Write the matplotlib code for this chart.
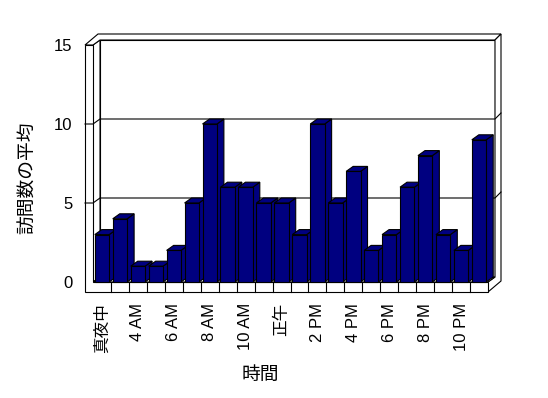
import matplotlib
matplotlib.use("Agg")
import matplotlib.pyplot as plt
from matplotlib.patches import Polygon

plt.rcParams['font.family'] = ['Liberation Sans', 'Noto Sans CJK JP', 'DejaVu Sans']

# ---- data ----
values = [3, 4, 1, 1, 2, 5, 10, 6, 6, 5, 5, 3, 10, 5, 7, 2, 3, 6, 8, 3, 2, 9]
tick_labels = ['真夜中', '4 AM', '6 AM', '8 AM', '10 AM', '正午',
               '2 PM', '4 PM', '6 PM', '8 PM', '10 PM']
y_ticks = [0, 5, 10, 15]
y_label = '訪問数の平均'
x_label = '時間'

# ---- style ----
W_PX, H_PX, DPI = 548, 398, 100
AX_L, AX_R, AX_T, AX_B = 93, 488, 45, 282   # front plane in pixels
BAR_COLOR = '#000080'
LW = 0.8
CJK = ['Noto Sans CJK JP', 'DejaVu Sans']

fig = plt.figure(figsize=(W_PX / DPI, H_PX / DPI), dpi=DPI)
ax = fig.add_axes([AX_L / W_PX, 1 - AX_B / H_PX,
                   (AX_R - AX_L) / W_PX, (AX_B - AX_T) / H_PX])
n = len(values)
ymax = y_ticks[-1]
ax.set_xlim(0, n)
ax.set_ylim(0, ymax)

pxx = (AX_R - AX_L) / n        # pixels per category
pxy = (AX_B - AX_T) / ymax     # pixels per value unit
def dx(p): return p / pxx
def dy(p): return p / pxy

# depth offsets (pixel -> data units)
a1x, a1y = dx(7), dy(5)     # plot depth
a2x, a2y = dx(6), dy(6)     # back wall thickness
Wt = dx(8)                  # left wall thickness
Ft = dy(10)                 # floor thickness
X, Y = n, ymax

def poly(pts, fc='white', z=1):
    ax.add_patch(Polygon(pts, closed=True, facecolor=fc, edgecolor='black',
                         linewidth=LW, clip_on=False, zorder=z,
                         joinstyle='miter'))

# back wall face
poly([(a1x, a1y), (X + a1x, a1y), (X + a1x, Y + a1y), (a1x, Y + a1y)])
# left wall inner face
poly([(0, Y), (a1x, Y + a1y), (a1x, a1y), (0, 0)])
# top face
poly([(-Wt, Y), (0, Y), (a1x, Y + a1y), (X + a1x, Y + a1y),
      (X + a1x + a2x, Y + a1y + a2y), (-Wt + a1x + a2x, Y + a1y + a2y)])
# right end
poly([(X, 0), (X + a1x, a1y), (X + a1x, Y + a1y),
      (X + a1x + a2x, Y + a1y + a2y), (X + a1x + a2x, -Ft + a1y + a2y), (X, -Ft)])
# floor top
poly([(0, 0), (X, 0), (X + a1x, a1y), (a1x, a1y)])
# front L face
poly([(-Wt, Y), (0, Y), (0, 0), (X, 0), (X, -Ft), (-Wt, -Ft)])

# gridlines
for v in y_ticks[1:-1]:
    ax.plot([-Wt, 0, a1x, X + a1x, X + a1x + a2x],
            [v, v, v + a1y, v + a1y, v + a1y + a2y],
            color='black', linewidth=LW, clip_on=False, zorder=2)
# category dividers on floor front
for i in range(1, n):
    ax.plot([i, i], [0, -Ft], color='black', linewidth=LW, clip_on=False, zorder=2)

# bars
bw = 0.8
for i, v in enumerate(values):
    x0 = i + (1 - bw) / 2
    x1 = x0 + bw
    z = 3 + i * 0.01
    poly([(x1, 0), (x1, v), (x1 + a1x, v + a1y), (x1 + a1x, a1y)], BAR_COLOR, z)
    poly([(x0, v), (x1, v), (x1 + a1x, v + a1y), (x0 + a1x, v + a1y)], BAR_COLOR, z)
    poly([(x0, 0), (x1, 0), (x1, v), (x0, v)], BAR_COLOR, z)

# axes / ticks
ax.set_frame_on(False)
ax.set_yticks(y_ticks)
ax.set_yticklabels([str(t) for t in y_ticks])
ax.set_xticks([i + 0.5 for i in range(0, n, 2)])
ax.set_xticklabels(tick_labels, rotation=90, va='top', ha='center')
ax.tick_params(axis='both', length=0, labelsize=12)
ax.tick_params(axis='y', pad=15)
ax.tick_params(axis='x', pad=15)

fig.text(27.5 / W_PX, 1 - 178 / H_PX, y_label, rotation=90,
         ha='center', va='center', fontsize=13.5, family=CJK)
fig.text(260 / W_PX, 1 - 374 / H_PX, x_label, ha='center', va='center',
         fontsize=13.5, family=CJK)

fig.savefig('out.png', dpi=DPI)
